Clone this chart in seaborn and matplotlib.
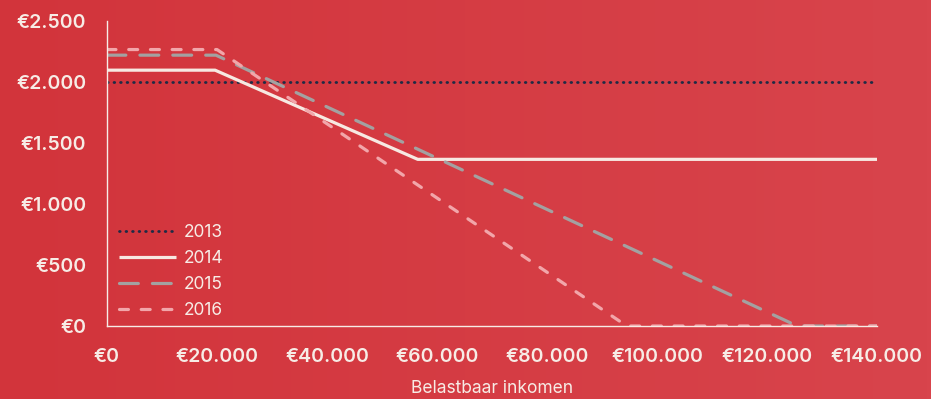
import numpy as np
import pandas as pd
import matplotlib
matplotlib.use("Agg")
import matplotlib.pyplot as plt
from matplotlib.colors import LinearSegmentedColormap
import seaborn as sns

# Algemene heffingskorting per jaar, knikpunten naar belastbaar inkomen
inkomen_2013 = [0, 140000]
korting_2013 = [2001, 2001]

inkomen_2014 = [0, 19650, 56500, 140000]
korting_2014 = [2097, 2097, 1366, 1366]

inkomen_2015 = [0, 19800, 125500, 140000]
korting_2015 = [2220, 2220, 0, 0]

inkomen_2016 = [0, 20000, 94500, 140000]
korting_2016 = [2266, 2266, 0, 0]

x_ticks = [0, 20000, 40000, 60000, 80000, 100000, 120000, 140000]
x_labels = ["€0", "€20.000", "€40.000", "€60.000", "€80.000",
            "€100.000", "€120.000", "€140.000"]
y_ticks = [0, 500, 1000, 1500, 2000, 2500]
y_labels = ["€0", "€500", "€1.000", "€1.500", "€2.000", "€2.500"]

sns.set_theme(style="white")
plt.rcParams["font.family"] = ["Inter", "DejaVu Sans"]

fig = plt.figure(figsize=(9.31, 3.99), dpi=100)

# achtergrond met horizontaal kleurverloop
bg = fig.add_axes([0, 0, 1, 1], zorder=-10)
cmap = LinearSegmentedColormap.from_list("bg", ["#D2343B", "#D8444C"])
bg.imshow(np.linspace(0, 1, 256)[None, :], aspect="auto", cmap=cmap,
          extent=[0, 1, 0, 1])
bg.set_axis_off()

ax = fig.add_axes([107 / 931, 73 / 399, 770 / 931, 305 / 399])
ax.patch.set_alpha(0)

series = [
    ("2013", inkomen_2013, korting_2013, "#1E2B45", (0, (0.25, 2.1)), 2.0),
    ("2014", inkomen_2014, korting_2014, "#F7E9E2", "-", 2.3),
    ("2015", inkomen_2015, korting_2015, "#A3A1A1", (0, (5.9, 4.4)), 2.3),
    ("2016", inkomen_2016, korting_2016, "#F2A6AA", (0, (2.8, 4.0)), 2.3),
]

for jaar, xs, ys, kleur, stijl, dikte in series:
    df = pd.DataFrame({"inkomen": xs, "korting": ys})
    sns.lineplot(data=df, x="inkomen", y="korting", ax=ax, color=kleur,
                 linestyle=stijl, linewidth=dikte, label=jaar,
                 solid_joinstyle="round", dash_joinstyle="round",
                 dash_capstyle="round", solid_capstyle="butt")

ax.set_xlim(0, 140000)
ax.set_ylim(0, 2500)
ax.set_xticks(x_ticks)
ax.set_xticklabels(x_labels)
ax.set_yticks(y_ticks)
ax.set_yticklabels(y_labels)

tekst = "#F7ECE6"
for side in ["top", "right"]:
    ax.spines[side].set_visible(False)
for side in ["left", "bottom"]:
    ax.spines[side].set_color(tekst)
    ax.spines[side].set_linewidth(1.0)

ax.tick_params(axis="both", colors=tekst, length=6, width=1.0,
               direction="out", labelsize=14)
ax.tick_params(axis="x", pad=10)
ax.tick_params(axis="y", pad=9)
for lbl in ax.get_xticklabels() + ax.get_yticklabels():
    lbl.set_fontweight("semibold")
    lbl.set_color(tekst)

ax.set_xlabel("Belastbaar inkomen", color=tekst, fontsize=12.5,
              fontweight="normal", labelpad=10)
ax.set_ylabel("")

leg = ax.legend(loc="lower left", bbox_to_anchor=(0.0, -0.016), frameon=False,
                fontsize=12.5, handlelength=3.3, handletextpad=0.4,
                labelspacing=0.52, borderaxespad=0.3)
for t in leg.get_texts():
    t.set_color(tekst)

fig.savefig("out.png", dpi=100)
